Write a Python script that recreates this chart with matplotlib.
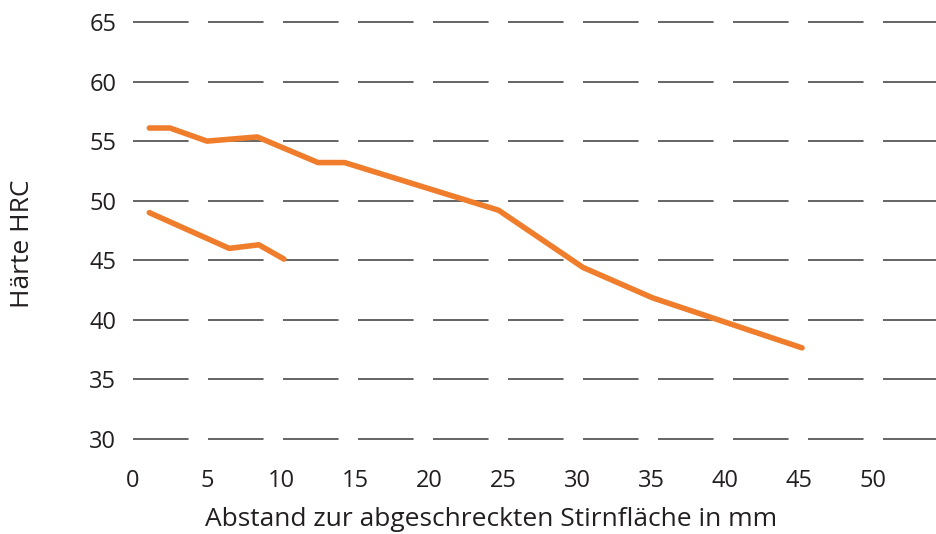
import matplotlib
matplotlib.use("Agg")
import matplotlib.pyplot as plt

plt.rcParams['font.family'] = ['Open Sans', 'DejaVu Sans']
plt.rcParams['lines.scale_dashes'] = False

# Data (distance in mm, hardness HRC)
upper_x = [1.1, 2.5, 5.0, 8.4, 12.5, 14.3, 24.7, 30.4, 35.1, 45.2]
upper_y = [56.1, 56.1, 55.0, 55.35, 53.2, 53.2, 49.2, 44.4, 41.85, 37.65]
lower_x = [1.1, 6.5, 8.5, 10.2]
lower_y = [49.0, 46.0, 46.3, 45.1]

x_ticks = [0, 5, 10, 15, 20, 25, 30, 35, 40, 45, 50]
y_ticks = [30, 35, 40, 45, 50, 55, 60, 65]

xlabel = "Abstand zur abgeschreckten Stirnfläche in mm"
ylabel = "Härte HRC"

orange = "#EF7D2C"
text_col = "#231F20"

fig = plt.figure(figsize=(9.36, 5.34), dpi=100)
ax = fig.add_axes([133/936, 1 - 445/534, 1 - 133/936, (445 - 16)/534])

ax.set_xlim(0.13, 54.25)
ax.set_ylim(29.5, 65.5)

for yv in y_ticks:
    ax.axhline(yv, color="#3a3a3a", lw=1.1, linestyle=(0, (40, 14)), zorder=1)

ax.plot(upper_x, upper_y, color=orange, lw=4.0, solid_capstyle='round',
        solid_joinstyle='round', zorder=3)
ax.plot(lower_x, lower_y, color=orange, lw=4.0, solid_capstyle='round',
        solid_joinstyle='round', zorder=3)

ax.set_xticks(x_ticks)
ax.set_yticks(y_ticks)
ax.tick_params(axis='both', length=0, labelsize=17, colors=text_col)
ax.tick_params(axis='x', pad=17)
ax.tick_params(axis='y', pad=12)

for s in ax.spines.values():
    s.set_visible(False)

fig.text(491/936, 1 - 519/534, xlabel, ha='center', va='center',
         fontsize=19, color=text_col)
fig.text(23/936, 1 - 244/534, ylabel, ha='center', va='center',
         rotation=90, fontsize=19, color=text_col)

fig.savefig("out.png", dpi=100)
